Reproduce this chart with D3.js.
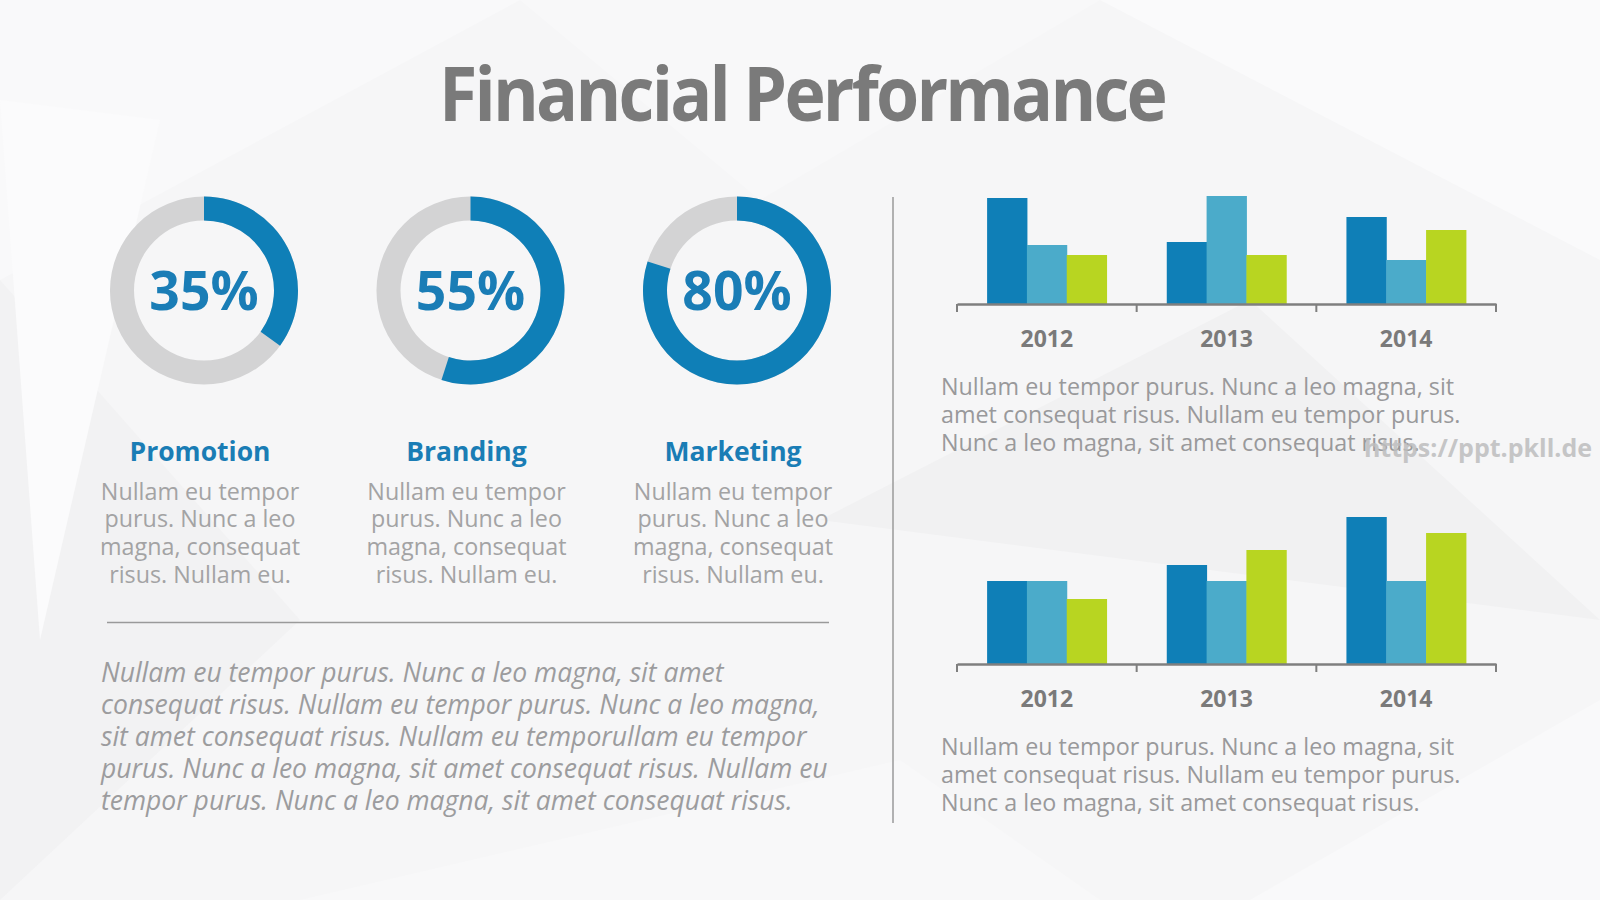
<!DOCTYPE html>
<html>
<head>
<meta charset="utf-8">
<script src="https://cdn.jsdelivr.net/npm/d3@7"></script>
<style>
  html, body { margin: 0; padding: 0; background: #f6f6f7; }
  svg { display: block; font-family: "Open Sans", "Noto Sans", sans-serif; }
</style>
</head>
<body>
<div id="chart"></div>
<script>
// donuts
const donutLabels = ["Promotion", "Branding", "Marketing"];
const donutValues = [35, 55, 80];

// bar charts
const years = ["2012", "2013", "2014"];
const topDark = [106, 62, 87];
const topLight = [59, 108, 44];
const topGreen = [49, 49, 74];
const bottomDark = [83, 99, 147];
const bottomLight = [83, 83, 83];
const bottomGreen = [65, 114, 131];

const blurbLines = ["Nullam eu tempor", "purus. Nunc a leo", "magna, consequat", "risus. Nullam eu."];
const rightLines1 = ["Nullam eu tempor purus. Nunc a leo magna, sit",
                     "amet consequat risus. Nullam eu tempor purus.",
                     "Nunc a leo magna, sit amet consequat risus."];
const rightLines2 = rightLines1;
const italicLines = ["Nullam eu tempor purus. Nunc a leo magna, sit amet",
                     "consequat risus. Nullam eu tempor purus. Nunc a leo magna,",
                     "sit amet consequat risus. Nullam eu temporullam eu tempor",
                     "purus. Nunc a leo magna, sit amet consequat risus. Nullam eu",
                     "tempor purus. Nunc a leo magna, sit amet consequat risus."];

const width = 1600, height = 900;
const blue = "#0f7fb7", lightBlue = "#4babca", green = "#b8d521";

const svg = d3.select("#chart").append("svg")
    .attr("width", width)
    .attr("height", height);

// background: soft low-poly look
const bg = svg.append("g");
bg.append("rect").attr("width", width).attr("height", height).attr("fill", "#f6f6f7");
const polys = [
  [[0,0],[520,0],[0,280]],
  [[520,0],[1100,0],[760,200]],
  [[1100,0],[1600,0],[1600,260]],
  [[0,280],[300,620],[0,900]],
  [[820,520],[1250,300],[1600,620]],
  [[300,900],[900,760],[1100,900]],
  [[1250,900],[1600,700],[1600,900]],
  [[40,640],[160,120],[0,100]]
];
const polyFills = ["#f9f9fa", "#f8f8f9", "#fafafb", "#f2f2f3", "#f1f1f2", "#f8f8f9", "#f9f9fa", "#fbfbfc"];
bg.selectAll("path.poly")
  .data(polys)
  .enter().append("path")
  .attr("class", "poly")
  .attr("d", d => "M" + d.join("L") + "Z")
  .attr("fill", (d, i) => polyFills[i]);

// title
svg.append("text")
  .attr("x", 802).attr("y", 121)
  .attr("text-anchor", "middle")
  .attr("font-size", 75)
  .attr("font-weight", 700)
  .attr("letter-spacing", -3)
  .attr("textLength", 726)
  .attr("lengthAdjust", "spacingAndGlyphs")
  .attr("fill", "#7a7a7a")
  .text("Financial Performance");

// donuts
const donutX = d3.scalePoint().domain(donutLabels).range([204, 737]);
const donutY = 290.5;
const arc = d3.arc().innerRadius(70).outerRadius(94);

const donut = svg.selectAll("g.donut")
  .data(donutLabels.map((l, i) => ({ label: l, value: donutValues[i] })))
  .enter().append("g")
  .attr("class", "donut")
  .attr("transform", d => "translate(" + donutX(d.label) + "," + donutY + ")");

donut.append("path")
  .attr("d", arc({ startAngle: 0, endAngle: 2 * Math.PI }))
  .attr("fill", "#d3d3d4");

donut.append("path")
  .attr("d", d => arc({ startAngle: 0, endAngle: 2 * Math.PI * d.value / 100 }))
  .attr("fill", blue);

donut.append("text")
  .attr("text-anchor", "middle")
  .attr("y", 19)
  .attr("font-size", 53.5)
  .attr("font-weight", 700)
  .attr("fill", "#1a7db6")
  .text(d => d.value + "%");

donut.append("text")
  .attr("text-anchor", "middle")
  .attr("x", -4)
  .attr("y", 170)
  .attr("font-size", 26.5)
  .attr("font-weight", 700)
  .attr("fill", "#1a7db5")
  .text(d => d.label);

donut.each(function() {
  d3.select(this).selectAll("text.blurb")
    .data(blurbLines)
    .enter().append("text")
    .attr("class", "blurb")
    .attr("text-anchor", "middle")
    .attr("x", -4)
    .attr("y", (d, i) => 209 + i * 27.9)
    .attr("font-size", 23.3)
    .attr("fill", "#a3a3a4")
    .text(d => d);
});

// separators
svg.append("line")
  .attr("x1", 107).attr("x2", 829).attr("y1", 622.5).attr("y2", 622.5)
  .attr("stroke", "#9a9a9a").attr("stroke-width", 1.5);
svg.append("line")
  .attr("x1", 893).attr("x2", 893).attr("y1", 197).attr("y2", 823)
  .attr("stroke", "#9a9a9a").attr("stroke-width", 1.5);

// italic paragraph
svg.append("g").selectAll("text")
  .data(italicLines)
  .enter().append("text")
  .attr("x", 101)
  .attr("y", (d, i) => 682 + i * 32)
  .attr("font-size", 26.5)
  .attr("font-style", "italic")
  .attr("fill", "#9c9c9e")
  .text(d => d);

// bar charts
const x0 = d3.scaleBand().domain(years).range([957, 1496]).padding(0);
const x1 = d3.scaleBand().domain([0, 1, 2]).range([0, x0.bandwidth()]).paddingInner(0).paddingOuter(0.756);
const barColors = [blue, lightBlue, green];

function drawBars(seriesList, baseline, lines) {
  const y = d3.scaleLinear().domain([0, 150]).range([baseline, baseline - 150]);
  const g = svg.append("g");

  const group = g.selectAll("g.year")
    .data(years)
    .enter().append("g")
    .attr("class", "year")
    .attr("transform", d => "translate(" + x0(d) + ",0)");

  group.selectAll("rect")
    .data((d, i) => seriesList.map((s, k) => ({ k: k, v: s[i] })))
    .enter().append("rect")
    .attr("x", d => x1(d.k))
    .attr("width", x1.bandwidth() + 0.5)
    .attr("y", d => y(d.v))
    .attr("height", d => baseline - y(d.v))
    .attr("fill", d => barColors[d.k]);

  // axis with labels at band centres
  const axis = g.append("g")
    .attr("transform", "translate(0," + baseline + ")")
    .call(d3.axisBottom(x0).tickSize(0).tickPadding(0));
  axis.select(".domain").attr("stroke", "#7f7f7f").attr("stroke-width", 2.5);
  axis.selectAll(".tick text")
    .attr("dy", 0)
    .attr("y", 43)
    .attr("font-size", 23)
    .attr("font-weight", 700)
    .attr("font-family", "\"Open Sans\", sans-serif")
    .attr("fill", "#7a7a7a");

  // boundary ticks
  const bounds = years.map(d => x0(d)).concat([x0.range()[1]]);
  g.selectAll("line.bound")
    .data(bounds)
    .enter().append("line")
    .attr("class", "bound")
    .attr("x1", d => d).attr("x2", d => d)
    .attr("y1", baseline).attr("y2", baseline + 8)
    .attr("stroke", "#7f7f7f").attr("stroke-width", 2);

  g.selectAll("text.para")
    .data(lines)
    .enter().append("text")
    .attr("class", "para")
    .attr("x", 941)
    .attr("y", (d, i) => baseline + 91 + i * 27.8)
    .attr("font-size", 23.3)
    .attr("fill", "#99999b")
    .text(d => d);
}

drawBars([topDark, topLight, topGreen], 304, rightLines1);
drawBars([bottomDark, bottomLight, bottomGreen], 664, rightLines2);

// watermark
svg.append("text")
  .attr("x", 1592).attr("y", 457)
  .attr("text-anchor", "end")
  .attr("font-size", 25)
  .attr("font-weight", 700)
  .attr("fill", "#bdbdbe")
  .attr("opacity", 0.85)
  .text("https://ppt.pkll.de");
</script>
</body>
</html>
